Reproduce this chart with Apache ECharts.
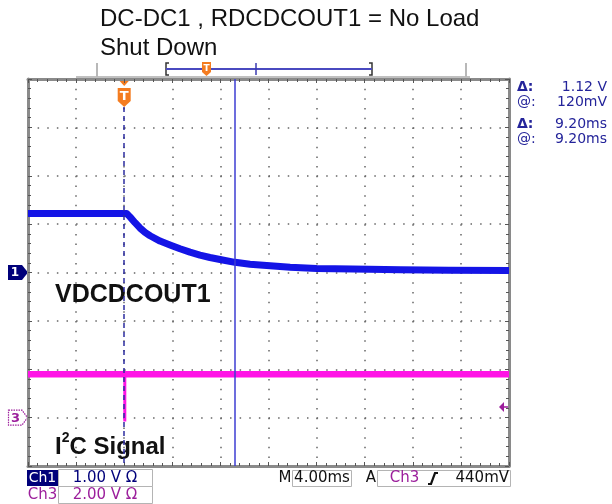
<!DOCTYPE html>
<html><head><meta charset="utf-8">
<script src="https://cdn.jsdelivr.net/npm/echarts@6/dist/echarts.min.js"></script>
<style>html,body{margin:0;padding:0;background:#fff}#c{width:612px;height:504px}</style>
</head><body><div id="c"></div>
<script>
// ---- data ----
const ch1Times = [-8, 0.2, 0.48, 0.9, 1.31, 1.73, 2.15, 2.98, 3.81, 4.64, 5.47, 6.30, 7.13, 7.97, 9.21, 10.46, 12.13, 13.8, 16, 19, 23, 27, 32];
const ch1Volts = [1.22, 1.22, 1.15, 1.03, 0.92, 0.83, 0.76, 0.65, 0.57, 0.49, 0.42, 0.36, 0.31, 0.27, 0.21, 0.17, 0.14, 0.11, 0.085, 0.072, 0.055, 0.047, 0.04];
const ch3Times = [-8, 32];
const ch3Volts = [1.79, 1.79];
const ch3SpikeTime = 0.05;
const ch3SpikeVolts = [1.79, -0.16];
const ch1VoltsPerDiv = 1, ch3VoltsPerDiv = 2;
const ch1OffsetDiv = 0, ch3OffsetDiv = -3;
const timeMin = -8, timeMax = 32, timePerDiv = 4;
const triggerTime = 0, cursorTime = 9.2, triggerLevel = 0.44;
const titleLines = ["DC-DC1 , RDCDCOUT1 = No Load", "Shut Down"];
const readouts = [["Δ:", "1.12 V"], ["@:", "120mV"], ["Δ:", "9.20ms"], ["@:", "9.20ms"]];
const traceLabels = ["VDCDCOUT1", "I", "2", "C Signal"];
const statusCh = ["Ch1", "Ch3"];
const statusScale = ["1.00 V Ω", "2.00 V Ω"];
const statusTime = ["M", "4.00ms"];
const statusTrig = ["A", "Ch3", "440mV"];

const BLUE = '#1414e6', MAG = '#ff14e6', NAVY = '#00007a', PURPLE = '#9c1f9c', ORANGE = '#f47c20', RO = '#24249a';

const ch1Data = ch1Times.map((t, i) => [t, ch1Volts[i] / ch1VoltsPerDiv + ch1OffsetDiv]);
const ch3Data = ch3Times.map((t, i) => [t, ch3Volts[i] / ch3VoltsPerDiv + ch3OffsetDiv]);
const spikeData = ch3SpikeVolts.map(v => [ch3SpikeTime, v / ch3VoltsPerDiv + ch3OffsetDiv]);

const chart = echarts.init(document.getElementById('c'), null, {renderer: 'canvas'});
function mkAxis(type, pos, split) {
  const isX = type === 'x';
  return {
    type: 'value', position: pos,
    min: isX ? timeMin : -4, max: isX ? timeMax : 4, interval: isX ? timePerDiv : 1,
    axisLabel: {show: false},
    axisLine: {show: true, onZero: false, lineStyle: {color: '#8a8a8a', width: 3}},
    axisTick: {show: true, inside: true, length: 4, lineStyle: {color: '#555', width: 1}},
    minorTick: {show: true, splitNumber: 5, length: 3, lineStyle: {color: '#555', width: 1}},
    splitLine: {show: split, lineStyle: {color: '#666', width: 1.5, type: [1.5, isX ? 8.18 : 8.12]}}
  };
}
chart.setOption({
  animation: false,
  backgroundColor: '#fff',
  grid: {left: 28, right: 103, top: 79, bottom: 38, show: false},
  xAxis: [mkAxis('x', 'bottom', true), mkAxis('x', 'top', false)],
  yAxis: [mkAxis('y', 'left', true), mkAxis('y', 'right', false)],
  series: [
    {type: 'line', name: 'CH1', data: ch1Data, showSymbol: false, smooth: false,
     lineStyle: {color: BLUE, width: 7, join: 'round'}, z: 3, silent: true},
    {type: 'line', name: 'CH3', data: ch3Data, showSymbol: false,
     lineStyle: {color: MAG, width: 6.5}, z: 3, silent: true},
    {type: 'line', name: 'CH3 spike', data: spikeData, showSymbol: false,
     lineStyle: {color: MAG, width: 3}, z: 3, silent: true},
    {type: 'line', name: 'marks', data: [], z: 5, silent: true,
     markLine: {symbol: 'none', silent: true, label: {show: false}, animation: false,
       data: [
         {xAxis: cursorTime, lineStyle: {color: '#3c3cd2', width: 1.5, type: 'solid'}},
         [{coord: [triggerTime, 3.42], lineStyle: {color: '#2c2ca0', width: 1.5, type: [5, 4]}}, {coord: [triggerTime, -4]}]
       ]}}
  ]
});

const px = (t, d) => chart.convertToPixel({xAxisIndex: 0, yAxisIndex: 0}, [t, d]);
const g = [];
// titles
titleLines.forEach((s, i) => g.push({type: 'text', x: 100, y: 19 + i * 29,
  style: {text: s, font: '24px "Liberation Sans", Arial, sans-serif', fill: '#111', textVerticalAlign: 'middle'}}));
// record bar
g.push({type: 'line', shape: {x1: 76, y1: 77, x2: 470, y2: 77}, style: {stroke: '#c0c0c0', lineWidth: 2}});
[97, 466].forEach(x => g.push({type: 'line', shape: {x1: x, y1: 63, x2: x, y2: 77}, style: {stroke: '#b8b8b8', lineWidth: 2}}));
g.push({type: 'polyline', shape: {points: [[169, 63], [166, 63], [166, 75], [169, 75]]}, style: {stroke: '#333', lineWidth: 1.5, fill: null}});
g.push({type: 'polyline', shape: {points: [[369, 63], [372, 63], [372, 75], [369, 75]]}, style: {stroke: '#333', lineWidth: 1.5, fill: null}});
g.push({type: 'line', shape: {x1: 166, y1: 69, x2: 372, y2: 69}, style: {stroke: '#4a4ac0', lineWidth: 2}});
g.push({type: 'line', shape: {x1: 256, y1: 63, x2: 256, y2: 75}, style: {stroke: '#3a3ab0', lineWidth: 1.5}});
g.push({type: 'polygon', shape: {points: [[202, 62], [211, 62], [211, 72], [206.5, 76], [202, 72]]}, style: {fill: ORANGE}});
g.push({type: 'text', x: 206.5, y: 68.5, style: {text: 'T', font: 'bold 9px "DejaVu Sans"', fill: '#fff', textAlign: 'center', textVerticalAlign: 'middle'}});
// trigger T marker
const tp = px(triggerTime, 4);
g.push({type: 'polygon', shape: {points: [[tp[0] - 5.5, 80], [tp[0] + 5.5, 80], [tp[0], 86]]}, style: {fill: ORANGE}});
g.push({type: 'polygon', shape: {points: [[tp[0] - 6.5, 88], [tp[0] + 6.5, 88], [tp[0] + 6.5, 101], [tp[0], 107], [tp[0] - 6.5, 101]]}, style: {fill: ORANGE}});
g.push({type: 'text', x: tp[0], y: 96.5, style: {text: 'T', font: 'bold 13px "DejaVu Sans"', fill: '#fff', textAlign: 'center', textVerticalAlign: 'middle'}});
// channel markers
const c1 = px(timeMin, ch1OffsetDiv), c3 = px(timeMin, ch3OffsetDiv);
g.push({type: 'polygon', shape: {points: [[8, c1[1] - 7.5], [22, c1[1] - 7.5], [28, c1[1]], [22, c1[1] + 7.5], [8, c1[1] + 7.5]]}, style: {fill: NAVY}});
g.push({type: 'text', x: 15, y: c1[1] + 0.5, style: {text: '1', font: 'bold 12px "DejaVu Sans"', fill: '#fff', textAlign: 'center', textVerticalAlign: 'middle'}});
g.push({type: 'polygon', shape: {points: [[8.5, c3[1] - 7.5], [22, c3[1] - 7.5], [27.5, c3[1]], [22, c3[1] + 7.5], [8.5, c3[1] + 7.5]]}, style: {fill: '#fff', stroke: PURPLE, lineWidth: 1.2, lineDash: [1.5, 1]}});
g.push({type: 'text', x: 15.5, y: c3[1] + 0.5, style: {text: '3', font: 'bold 13px "DejaVu Sans"', fill: PURPLE, textAlign: 'center', textVerticalAlign: 'middle'}});
// trigger level arrow
const tl = px(timeMax, triggerLevel / ch3VoltsPerDiv + ch3OffsetDiv);
g.push({type: 'polygon', shape: {points: [[tl[0] - 10, tl[1]], [tl[0] - 5, tl[1] - 5], [tl[0] - 5, tl[1] + 5]]}, style: {fill: PURPLE}});
g.push({type: 'line', shape: {x1: tl[0] - 6, y1: tl[1], x2: tl[0], y2: tl[1]}, style: {stroke: PURPLE, lineWidth: 1.5}});
// trace labels
g.push({type: 'text', x: 55, y: 295, style: {text: traceLabels[0], font: 'bold 25px "Liberation Sans", Arial', fill: '#111', textVerticalAlign: 'middle'}});
g.push({type: 'text', x: 55, y: 445, style: {
  text: '{a|' + traceLabels[1] + '}{s|' + traceLabels[2] + '}{a|' + traceLabels[3] + '}',
  rich: {a: {font: 'bold 24px "Liberation Sans", Arial', fill: '#111', verticalAlign: 'bottom', lineHeight: 28},
         s: {font: 'bold 14px "Liberation Sans", Arial', fill: '#111', verticalAlign: 'top', lineHeight: 28, padding: [0, 0, 10, 0]}},
  textVerticalAlign: 'middle'}});
// readouts
const ry = [87, 102.5, 124.5, 139.5];
readouts.forEach((r, i) => {
  g.push({type: 'text', x: 517, y: ry[i], style: {text: r[0], font: (r[0][0] === 'Δ' ? 'bold ' : '') + '14px "DejaVu Sans"', fill: RO, textVerticalAlign: 'middle'}});
  g.push({type: 'text', x: 607, y: ry[i], style: {text: r[1], font: '14px "DejaVu Sans"', fill: RO, textAlign: 'right', textVerticalAlign: 'middle'}});
});
// status bar
const SF = '15px "DejaVu Sans"';
g.push({type: 'rect', shape: {x: 27, y: 470, width: 31, height: 16}, style: {fill: NAVY}});
g.push({type: 'text', x: 42.5, y: 478, style: {text: statusCh[0], font: '14px "DejaVu Sans"', fill: '#fff', textAlign: 'center', textVerticalAlign: 'middle'}});
g.push({type: 'rect', shape: {x: 58.5, y: 469.5, width: 94, height: 17}, style: {fill: '#fff', stroke: '#b4b4b4', lineWidth: 1}});
g.push({type: 'text', x: 105, y: 478, style: {text: statusScale[0], font: SF, fill: NAVY, textAlign: 'center', textVerticalAlign: 'middle'}});
g.push({type: 'text', x: 42.5, y: 495, style: {text: statusCh[1], font: SF, fill: PURPLE, textAlign: 'center', textVerticalAlign: 'middle'}});
g.push({type: 'rect', shape: {x: 58.5, y: 486.5, width: 94, height: 17}, style: {fill: '#fff', stroke: '#b4b4b4', lineWidth: 1}});
g.push({type: 'text', x: 105, y: 495, style: {text: statusScale[1], font: SF, fill: PURPLE, textAlign: 'center', textVerticalAlign: 'middle'}});
g.push({type: 'text', x: 285, y: 478, style: {text: statusTime[0], font: SF, fill: '#111', textAlign: 'center', textVerticalAlign: 'middle'}});
g.push({type: 'rect', shape: {x: 292.5, y: 470.5, width: 59, height: 16}, style: {fill: '#fff', stroke: '#b4b4b4', lineWidth: 1}});
g.push({type: 'text', x: 322, y: 478.5, style: {text: statusTime[1], font: SF, fill: '#111', textAlign: 'center', textVerticalAlign: 'middle'}});
g.push({type: 'text', x: 371, y: 478, style: {text: statusTrig[0], font: SF, fill: '#111', textAlign: 'center', textVerticalAlign: 'middle'}});
g.push({type: 'rect', shape: {x: 377.5, y: 470.5, width: 133, height: 16}, style: {fill: '#fff', stroke: '#b4b4b4', lineWidth: 1}});
g.push({type: 'text', x: 404.5, y: 478.5, style: {text: statusTrig[1], font: SF, fill: PURPLE, textAlign: 'center', textVerticalAlign: 'middle'}});
g.push({type: 'polyline', shape: {points: [[428, 484], [431, 484], [435, 473], [438, 473]]}, style: {stroke: '#111', lineWidth: 2.2, fill: null}});
g.push({type: 'text', x: 509, y: 478.5, style: {text: statusTrig[2], font: SF, fill: '#111', textAlign: 'right', textVerticalAlign: 'middle'}});
chart.setOption({graphic: {elements: g}});
</script></body></html>
